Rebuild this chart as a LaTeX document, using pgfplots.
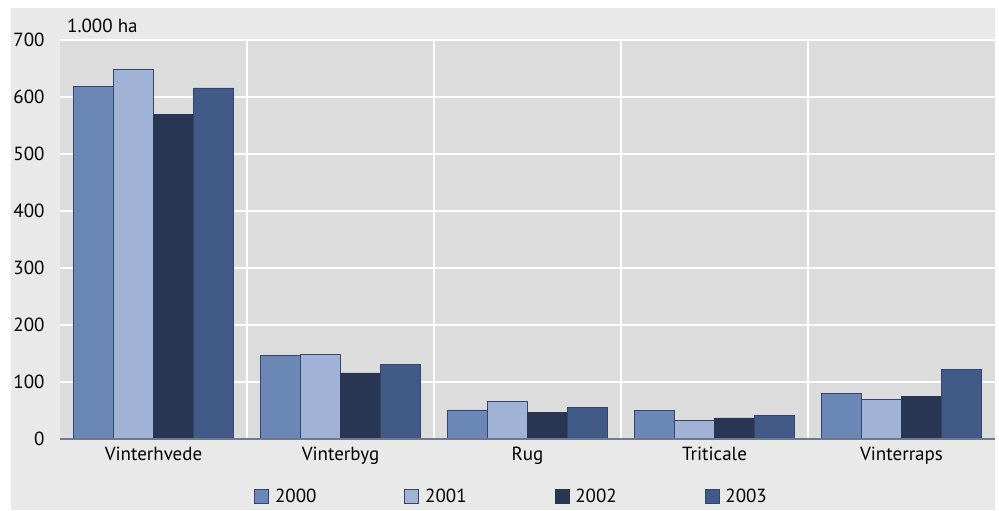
\documentclass[border=0pt]{standalone}
\usepackage{pgfplots}
\pgfplotsset{compat=1.18}
\usepackage{fontspec}
\setmainfont{PT Sans}
\definecolor{outerbg}{HTML}{E9E9E9}
\definecolor{plotbg}{HTML}{DCDCDC}
\definecolor{cA}{HTML}{6B87B5}
\definecolor{cB}{HTML}{A0B2D6}
\definecolor{cC}{HTML}{283654}
\definecolor{cD}{HTML}{415A88}
\definecolor{edge}{HTML}{34446A}
\definecolor{axln}{HTML}{6E7B8F}
\begin{document}
\begin{tikzpicture}
\useasboundingbox (0,0) rectangle (999pt,511pt);
\fill[outerbg] (11pt,1pt) rectangle (995pt,503pt);
\begin{axis}[
  at={(60pt,72pt)}, anchor=south west,
  width=935pt, height=399pt, scale only axis,
  clip=false,
  font=\fontsize{19}{22}\selectfont,
  /pgf/number format/assume math mode=true,
  ybar=0pt, bar width=0.2139,
  xmin=-0.5, xmax=4.5, ymin=0, ymax=700,
  xtick={0,1,2,3,4},
  xticklabels={Vinterhvede,Vinterbyg,Rug,Triticale,Vinterraps},
  minor xtick={0.5,1.5,2.5,3.5},
  ytick={0,100,...,700},
  major tick length=0pt, minor tick length=0pt,
  ymajorgrids, xminorgrids,
  major grid style={white, line width=2.5pt},
  minor grid style={white, line width=2.5pt},
  axis line style={draw=none},
  axis background/.style={fill=plotbg},
  yticklabel style={xshift=-12pt},
  xticklabel style={yshift=-5pt},
  legend columns=4,
  legend style={at={(0.483,-0.145)}, anchor=center, draw=none, fill=none,
    /tikz/every odd column/.append style={column sep=4pt},
    /tikz/every even column/.append style={column sep=86pt},
    font=\fontsize{19}{22}\selectfont},
  legend image code/.code={\draw[#1] (0pt,-6pt) rectangle (14pt,8pt);},
  every axis plot/.append style={draw=edge, line width=0.7pt},
]
\addplot[fill=cA] coordinates {(0,618) (1,146) (2,51) (3,50) (4,80)};
\addplot[fill=cB] coordinates {(0,649) (1,149) (2,66) (3,33) (4,70)};
\addplot[fill=cC, draw=cC] coordinates {(0,570) (1,116) (2,47) (3,37) (4,75)};
\addplot[fill=cD] coordinates {(0,616) (1,131) (2,56) (3,41) (4,122)};
\legend{2000,2001,2002,2003}
\draw[axln, line width=1.5pt] (rel axis cs:0,0) -- (rel axis cs:1,0);
\node[anchor=base west, inner sep=0pt] at ([xshift=7pt,yshift=7pt]rel axis cs:0,1) {1.000 ha};
\end{axis}
\end{tikzpicture}
\end{document}
